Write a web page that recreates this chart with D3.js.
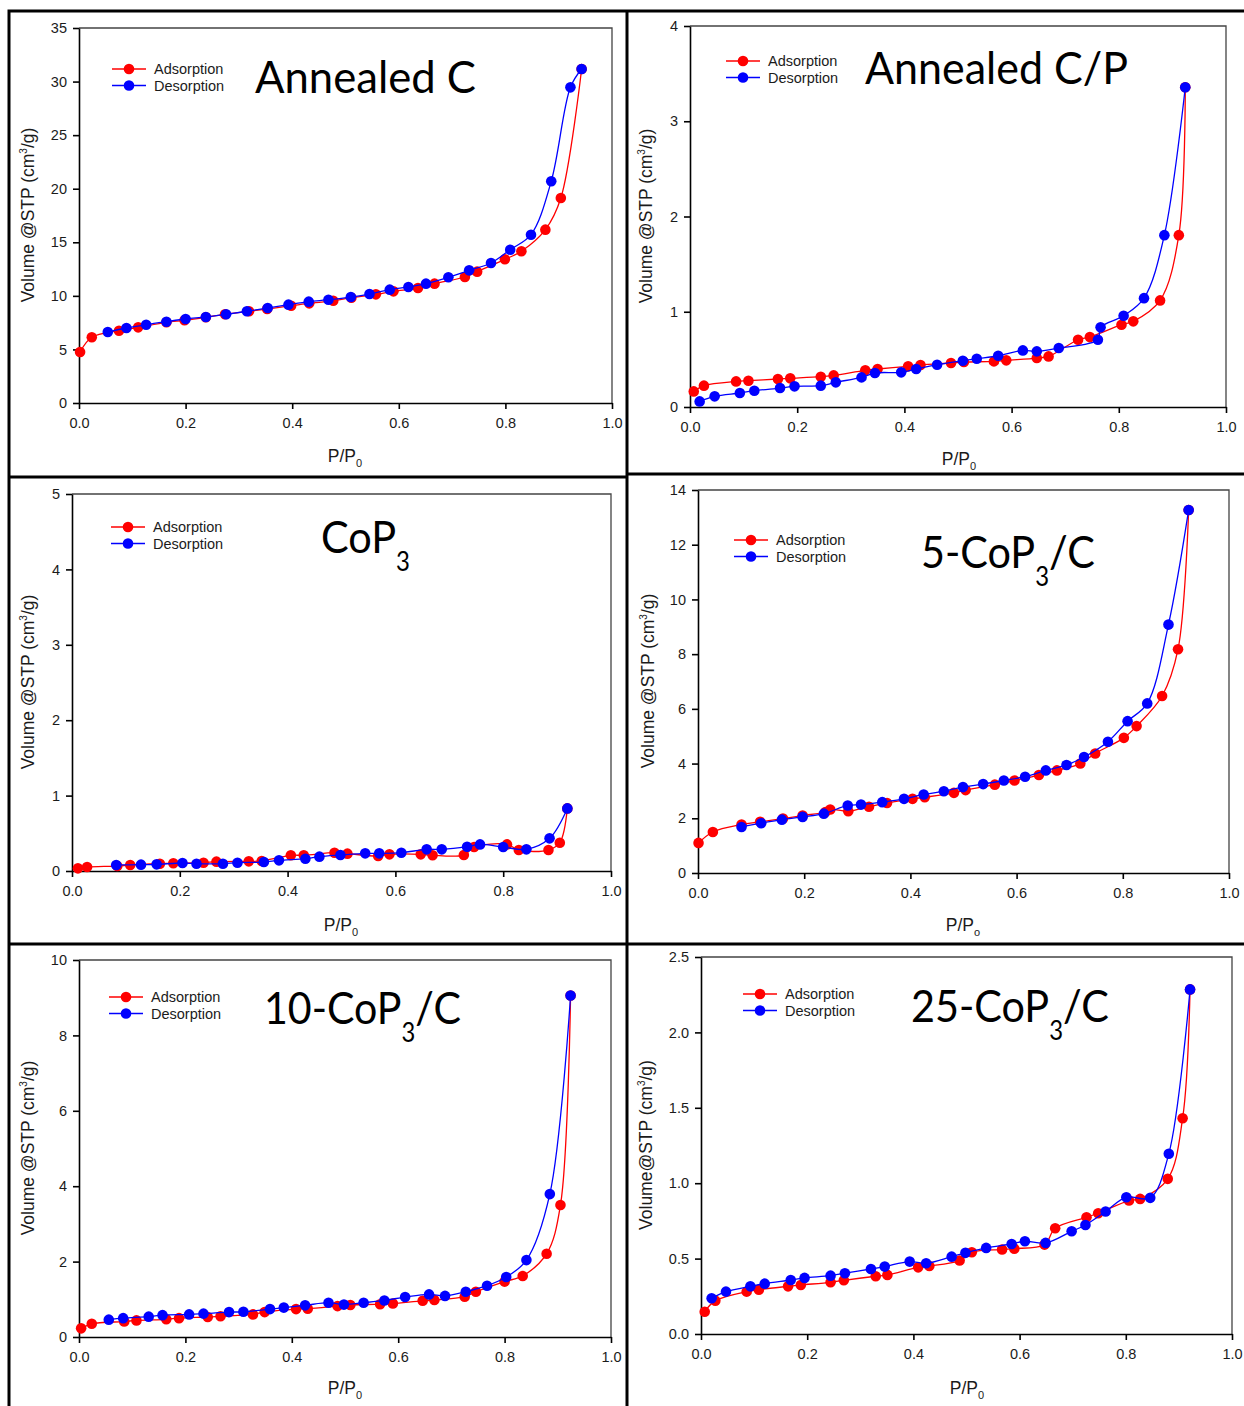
<!DOCTYPE html>
<html>
<head>
<meta charset="utf-8">
<script src="https://cdn.jsdelivr.net/npm/d3@7"></script>
<style>
  body { margin: 0; background: #fff; }
  svg { display: block; }
  .tick text { font-family: Arial, "Liberation Sans", sans-serif; font-size: 14.5px; fill: #1b1b1b; }
  .lab { font-family: Arial, "Liberation Sans", sans-serif; font-size: 17.5px; fill: #1b1b1b; }
  .legend { font-family: Arial, "Liberation Sans", sans-serif; font-size: 14.5px; fill: #1b1b1b; }
  .title { font-family: Lato, "Open Sans", sans-serif; font-size: 45px; fill: #000; }
</style>
</head>
<body>
<div id="chart"></div>
<script>
const W = 1244, H = 1406;

// x ticks shared by every panel
const xTicks = [0, 0.2, 0.4, 0.6, 0.8, 1.0];

// Annealed C
const annealedCAds = [[0.002,4.76],[0.024,6.13],[0.075,6.75],[0.111,7.06],[0.164,7.53],[0.198,7.72],[0.238,8.0],[0.274,8.28],[0.319,8.56],[0.353,8.77],[0.398,9.08],[0.432,9.3],[0.477,9.55],[0.511,9.83],[0.557,10.14],[0.59,10.42],[0.636,10.73],[0.667,11.14],[0.724,11.76],[0.747,12.26],[0.799,13.41],[0.83,14.16],[0.875,16.18],[0.904,19.13],[0.943,31.17]];
const annealedCDes = [[0.943,31.17],[0.922,29.46],[0.886,20.69],[0.848,15.71],[0.809,14.31],[0.773,13.07],[0.732,12.38],[0.693,11.73],[0.651,11.14],[0.618,10.83],[0.583,10.58],[0.545,10.17],[0.51,9.89],[0.468,9.64],[0.431,9.46],[0.393,9.18],[0.354,8.87],[0.315,8.56],[0.276,8.28],[0.238,8.03],[0.2,7.84],[0.164,7.59],[0.126,7.31],[0.089,7.0],[0.054,6.63]];

// Annealed C/P
const annealedCPAds = [[0.007,0.164],[0.026,0.224],[0.086,0.269],[0.109,0.276],[0.164,0.294],[0.187,0.301],[0.244,0.318],[0.268,0.332],[0.327,0.385],[0.35,0.399],[0.407,0.427],[0.43,0.441],[0.487,0.462],[0.511,0.472],[0.567,0.479],[0.59,0.49],[0.647,0.514],[0.669,0.531],[0.724,0.706],[0.746,0.734],[0.805,0.864],[0.827,0.899],[0.877,1.119],[0.912,1.804],[0.924,3.357]];
const annealedCPDes = [[0.924,3.357],[0.885,1.804],[0.847,1.143],[0.809,0.958],[0.766,0.836],[0.761,0.706],[0.688,0.619],[0.647,0.584],[0.621,0.594],[0.575,0.538],[0.535,0.507],[0.509,0.486],[0.461,0.444],[0.422,0.399],[0.394,0.364],[0.345,0.357],[0.32,0.311],[0.272,0.259],[0.244,0.224],[0.195,0.217],[0.168,0.199],[0.12,0.171],[0.093,0.147],[0.046,0.112],[0.018,0.059]];

// CoP3
const cop3Ads = [[0.011,0.035],[0.028,0.053],[0.084,0.066],[0.108,0.08],[0.163,0.097],[0.188,0.102],[0.244,0.11],[0.268,0.124],[0.328,0.128],[0.352,0.133],[0.406,0.208],[0.43,0.208],[0.487,0.243],[0.511,0.23],[0.568,0.199],[0.589,0.221],[0.647,0.221],[0.669,0.208],[0.727,0.212],[0.746,0.318],[0.807,0.353],[0.829,0.278],[0.884,0.278],[0.905,0.375],[0.919,0.83]];
const cop3Des = [[0.919,0.83],[0.886,0.433],[0.843,0.287],[0.8,0.318],[0.757,0.353],[0.733,0.322],[0.686,0.287],[0.658,0.287],[0.611,0.243],[0.57,0.234],[0.544,0.234],[0.498,0.212],[0.459,0.19],[0.433,0.163],[0.384,0.141],[0.356,0.119],[0.307,0.11],[0.28,0.097],[0.231,0.097],[0.205,0.106],[0.157,0.088],[0.128,0.084],[0.082,0.08]];

// 5-CoP3/C
const cop3C5Ads = [[0.001,1.10],[0.028,1.50],[0.082,1.77],[0.117,1.87],[0.16,1.99],[0.197,2.10],[0.24,2.23],[0.249,2.32],[0.283,2.26],[0.322,2.42],[0.356,2.56],[0.404,2.71],[0.427,2.77],[0.482,2.93],[0.504,3.03],[0.559,3.23],[0.596,3.38],[0.642,3.58],[0.676,3.75],[0.72,4.0],[0.748,4.37],[0.802,4.94],[0.826,5.37],[0.874,6.47],[0.904,8.18],[0.924,13.27]];
const cop3C5Des = [[0.924,13.27],[0.886,9.08],[0.846,6.20],[0.809,5.55],[0.772,4.80],[0.727,4.24],[0.694,3.95],[0.655,3.75],[0.616,3.52],[0.576,3.38],[0.537,3.25],[0.499,3.14],[0.463,2.99],[0.425,2.87],[0.388,2.71],[0.347,2.59],[0.307,2.50],[0.282,2.47],[0.237,2.17],[0.197,2.05],[0.158,1.95],[0.119,1.82],[0.082,1.68]];

// 10-CoP3/C
const cop3C10Ads = [[0.004,0.23],[0.024,0.35],[0.085,0.41],[0.108,0.44],[0.164,0.47],[0.188,0.50],[0.242,0.53],[0.266,0.55],[0.327,0.60],[0.349,0.66],[0.408,0.74],[0.43,0.75],[0.486,0.82],[0.51,0.85],[0.566,0.87],[0.59,0.89],[0.646,0.96],[0.668,0.98],[0.725,1.07],[0.746,1.20],[0.8,1.47],[0.834,1.62],[0.879,2.21],[0.905,3.50],[0.924,9.06]];
const cop3C10Des = [[0.924,9.06],[0.885,3.79],[0.841,2.04],[0.803,1.59],[0.767,1.36],[0.727,1.20],[0.688,1.09],[0.658,1.13],[0.613,1.06],[0.574,0.97],[0.535,0.91],[0.498,0.86],[0.469,0.91],[0.425,0.84],[0.385,0.78],[0.359,0.74],[0.309,0.67],[0.282,0.66],[0.234,0.62],[0.207,0.60],[0.157,0.58],[0.131,0.54],[0.083,0.50],[0.056,0.46]];

// 25-CoP3/C
const cop3C25Ads = [[0.007,0.148],[0.027,0.221],[0.086,0.281],[0.109,0.294],[0.164,0.316],[0.188,0.325],[0.244,0.343],[0.269,0.356],[0.329,0.383],[0.351,0.392],[0.409,0.442],[0.43,0.451],[0.487,0.487],[0.51,0.542],[0.567,0.56],[0.59,0.566],[0.647,0.593],[0.667,0.701],[0.726,0.774],[0.748,0.801],[0.806,0.885],[0.827,0.896],[0.879,1.029],[0.907,1.431],[0.921,2.285]];
const cop3C25Des = [[0.921,2.285],[0.881,1.195],[0.846,0.903],[0.801,0.907],[0.762,0.812],[0.724,0.723],[0.698,0.681],[0.649,0.604],[0.61,0.615],[0.585,0.597],[0.537,0.571],[0.498,0.538],[0.472,0.513],[0.424,0.469],[0.393,0.48],[0.346,0.447],[0.32,0.431],[0.271,0.403],[0.244,0.387],[0.195,0.372],[0.169,0.358],[0.12,0.334],[0.093,0.316],[0.047,0.281],[0.02,0.237]];

// y ticks per panel
const yTicksAC = [0, 5, 10, 15, 20, 25, 30, 35];
const yTicksACP = [0, 1, 2, 3, 4];
const yTicksCoP3 = [0, 1, 2, 3, 4, 5];
const yTicks5 = [0, 2, 4, 6, 8, 10, 12, 14];
const yTicks10 = [0, 2, 4, 6, 8, 10];
const yTicks25 = [0, 0.5, 1.0, 1.5, 2.0, 2.5];

const seriesNames = ["Adsorption", "Desorption"];
const seriesColors = ["#ff0000", "#0000ff"];

const svg = d3.select("#chart").append("svg")
  .attr("width", W).attr("height", H);

svg.append("rect").attr("width", W).attr("height", H).attr("fill", "#fff");

const panels = [
  {ads: annealedCAds, des: annealedCDes, yTicks: yTicksAC, yFmt: d3.format("d"),
   left: 79, right: 612, top: 28, bottom: 403,
   title: ["Annealed C"], titleX: 255, titleY: 93, titleW: 221,
   legX: 112, legY: 69, ylab: "Volume @STP (cm", ylabX: 28, ylabY: 215,
   xlabX: 345, xlabY: 462, sub0: "0"},
  {ads: annealedCPAds, des: annealedCPDes, yTicks: yTicksACP, yFmt: d3.format("d"),
   left: 690, right: 1226, top: 26, bottom: 407,
   title: ["Annealed C/P"], titleX: 865, titleY: 84, titleW: 263,
   legX: 726, legY: 61, ylab: "Volume @STP (cm", ylabX: 646, ylabY: 216,
   xlabX: 959, xlabY: 465, sub0: "0"},
  {ads: cop3Ads, des: cop3Des, yTicks: yTicksCoP3, yFmt: d3.format("d"),
   left: 72, right: 611, top: 494, bottom: 871,
   title: ["CoP", "3", ""], titleX: 321, titleY: 553, titleW: 89,
   legX: 111, legY: 527, ylab: "Volume @STP (cm", ylabX: 28, ylabY: 682,
   xlabX: 341, xlabY: 931, sub0: "0"},
  {ads: cop3C5Ads, des: cop3C5Des, yTicks: yTicks5, yFmt: d3.format("d"),
   left: 698, right: 1229, top: 490, bottom: 873,
   title: ["5-CoP", "3", "/C"], titleX: 921, titleY: 568, titleW: 174,
   legX: 734, legY: 540, ylab: "Volume @STP (cm", ylabX: 648, ylabY: 681,
   xlabX: 963, xlabY: 931, sub0: "o"},
  {ads: cop3C10Ads, des: cop3C10Des, yTicks: yTicks10, yFmt: d3.format("d"),
   left: 79, right: 611, top: 960, bottom: 1337,
   title: ["10-CoP", "3", "/C"], titleX: 264, titleY: 1024, titleW: 197,
   legX: 109, legY: 997, ylab: "Volume @STP (cm", ylabX: 28, ylabY: 1148,
   xlabX: 345, xlabY: 1394, sub0: "0"},
  {ads: cop3C25Ads, des: cop3C25Des, yTicks: yTicks25, yFmt: d3.format(".1f"),
   left: 701, right: 1232, top: 957, bottom: 1334,
   title: ["25-CoP", "3", "/C"], titleX: 911, titleY: 1022, titleW: 198,
   legX: 743, legY: 994, ylab: "Volume@STP (cm", ylabX: 646, ylabY: 1145,
   xlabX: 967, xlabY: 1394, sub0: "0"}
];

function drawPanel(p) {
  const g = svg.append("g");
  const x = d3.scaleLinear().domain([0, 1]).range([p.left, p.right]);
  const yMax = p.yTicks[p.yTicks.length - 1];
  const y = d3.scaleLinear().domain([0, yMax]).range([p.bottom, p.top]);

  // top/right frame
  g.append("path")
    .attr("d", `M${p.left},${p.top}H${p.right}V${p.bottom}`)
    .attr("fill", "none").attr("stroke", "#444").attr("stroke-width", 1.3);

  g.append("g")
    .attr("transform", `translate(0,${p.bottom})`)
    .call(d3.axisBottom(x).tickValues(xTicks).tickFormat(d3.format(".1f")).tickSize(6).tickPadding(9).tickSizeOuter(0))
    .call(a => a.selectAll("line,path").attr("stroke", "#000").attr("stroke-width", 1.6));

  g.append("g")
    .attr("transform", `translate(${p.left},0)`)
    .call(d3.axisLeft(y).tickValues(p.yTicks).tickFormat(p.yFmt).tickSize(6).tickPadding(6).tickSizeOuter(0))
    .call(a => a.selectAll("line,path").attr("stroke", "#000").attr("stroke-width", 1.6));

  g.selectAll(".tick text").attr("font-size", null).attr("font-family", null).attr("fill", null);

  const line = d3.line()
    .x(d => x(d[0])).y(d => y(d[1]))
    .curve(d3.curveCatmullRom.alpha(0.5));

  [p.ads, p.des].forEach((data, i) => {
    g.append("path").datum(data)
      .attr("d", line)
      .attr("fill", "none")
      .attr("stroke", seriesColors[i])
      .attr("stroke-width", 1.3);
    g.selectAll(null).data(data).join("circle")
      .attr("cx", d => x(d[0])).attr("cy", d => y(d[1]))
      .attr("r", 5.3)
      .attr("fill", seriesColors[i]);
  });

  // legend
  seriesNames.forEach((name, i) => {
    const ly = p.legY + i * 16.5;
    g.append("line")
      .attr("x1", p.legX).attr("x2", p.legX + 34)
      .attr("y1", ly).attr("y2", ly)
      .attr("stroke", seriesColors[i]).attr("stroke-width", 1.3);
    g.append("circle")
      .attr("cx", p.legX + 17).attr("cy", ly).attr("r", 5.3)
      .attr("fill", seriesColors[i]);
    g.append("text").attr("class", "legend")
      .attr("x", p.legX + 42).attr("y", ly + 5)
      .text(name);
  });

  // title, squeezed to the width of the original Calibri lettering
  const t = g.append("text").attr("class", "title")
    .attr("x", p.titleX).attr("y", p.titleY)
    .attr("textLength", p.titleW)
    .attr("lengthAdjust", "spacingAndGlyphs");
  t.append("tspan").text(p.title[0]);
  if (p.title.length > 1) {
    t.append("tspan").attr("dy", 18).attr("font-size", 26).text(p.title[1]);
    if (p.title[2]) t.append("tspan").attr("dy", -18).text(p.title[2]);
  }

  // y axis title
  const yl = g.append("text").attr("class", "lab")
    .attr("text-anchor", "middle")
    .attr("transform", `translate(${p.ylabX},${p.ylabY}) rotate(-90)`)
    .attr("dy", "0.35em");
  yl.append("tspan").text(p.ylab);
  yl.append("tspan").attr("dy", -7).attr("font-size", 10).text("3");
  yl.append("tspan").attr("dy", 7).text("/g)");

  // x axis title
  const xl = g.append("text").attr("class", "lab")
    .attr("text-anchor", "middle")
    .attr("x", p.xlabX).attr("y", p.xlabY);
  xl.append("tspan").text("P/P");
  xl.append("tspan").attr("dy", 5).attr("font-size", 11).text(p.sub0);
}

panels.forEach(drawPanel);

// panel borders
const borders = svg.append("g").attr("stroke", "#000").attr("stroke-width", 3).attr("fill", "none");
borders.append("path").attr("d", `M9,${H}V11H${W}`);
borders.append("path").attr("d", `M627,11V${H}`);
borders.append("path").attr("d", `M9,477H627`);
borders.append("path").attr("d", `M627,474H${W}`);
borders.append("path").attr("d", `M9,944H${W}`);
</script>
</body>
</html>
